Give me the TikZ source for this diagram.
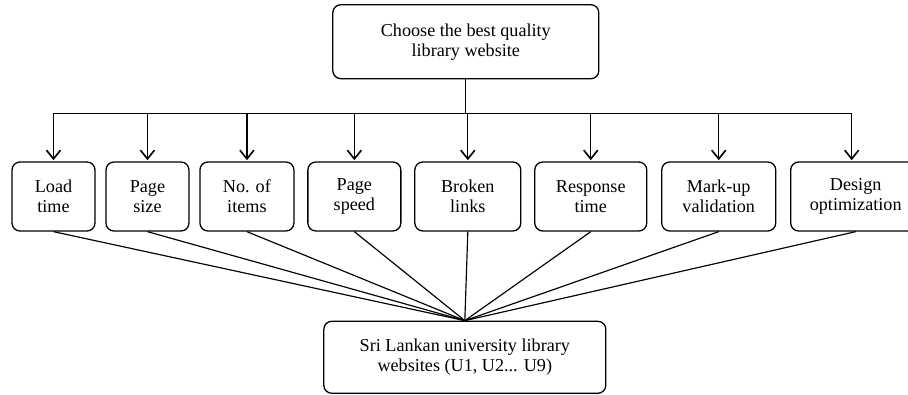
\documentclass[tikz,border=0pt]{standalone}
\usepackage{fontspec}
\setmainfont{Liberation Serif}
\usepackage{tikz}
\usetikzlibrary{shapes,arrows.meta,positioning}

\begin{document}
\begin{tikzpicture}[
    node distance=0.35cm and 0.35cm,
    box/.style={rectangle, draw, rounded corners=0.24cm, line width=1.1pt, align=center, inner sep=0pt, font=\fontsize{15.5}{17}\selectfont},
    criterion/.style={box, minimum height=2.07cm},
    arrow/.style={-{Straight Barb[length=2.6mm, width=4.2mm, line width=1.4pt]}, line width=1.1pt},
    link/.style={line width=1pt}
    ]

    % Marco
    \useasboundingbox (0,0) rectangle (27.24,11.82);

    % Criterios
    \node[criterion, minimum width=2.49cm] (load) at (1.605,5.925) {Load\\time};
    \node[criterion, minimum width=2.49cm, right=0.29cm of load] (size) {Page\\size};
    \node[criterion, minimum width=2.82cm, right=0.29cm of size] (items) {No. of\\items};
    \node[criterion, minimum width=2.79cm, right=0.38cm of items] (speed) {Page\\speed};
    \node[criterion, minimum width=3.18cm, right=0.38cm of speed] (broken) {Broken\\links};
    \node[criterion, minimum width=3.36cm, right=0.38cm of broken] (response) {Response\\time};
    \node[criterion, minimum width=3.42cm, right=0.41cm of response] (markup) {Mark-up\\validation};
    \node[criterion, minimum width=3.9cm, right=0.35cm of markup, xshift=0.06cm] (design) {Design\\optimization};

    % Objetivo y alternativas
    \node[box, minimum width=7.98cm, minimum height=2.22cm, above=2.46cm of broken, xshift=-0.06cm] (goal) {Choose the best quality\\library website};
    \node[box, minimum width=8.46cm, minimum height=2.16cm, below=2.67cm of broken, xshift=-0.09cm] (sites) {Sri Lankan university library\\websites (U1, U2... U9)};

    % Barra horizontal
    \coordinate[below=1.02cm of goal.south] (bus);
    \draw[link] (goal) -- (bus);
    \draw[link] (load.north |- bus) -- ([xshift=-0.12cm]design.north |- bus);

    % Flechas hacia los criterios
    \draw[arrow] (load.north |- bus) -- ([yshift=1pt]load.north);
    \draw[arrow] (size.north |- bus) -- ([yshift=1pt]size.north);
    \draw[arrow] (items.north |- bus) -- ([yshift=1pt]items.north);
    \draw[arrow] (speed.north |- bus) -- ([yshift=1pt]speed.north);
    \draw[arrow] (broken.north |- bus) -- ([yshift=1pt]broken.north);
    \draw[arrow] (response.north |- bus) -- ([yshift=1pt]response.north);
    \draw[arrow] (markup.north |- bus) -- ([yshift=1pt]markup.north);
    \draw[arrow] ([xshift=-0.12cm]design.north |- bus) -- ([xshift=-0.12cm, yshift=1pt]design.north);

    % Lineas hacia las alternativas
    \draw[link] (load.south) -- (sites.north);
    \draw[link] (size.south) -- (sites.north);
    \draw[link] (items.south) -- (sites.north);
    \draw[link] (speed.south) -- (sites.north);
    \draw[link] (broken.south) -- (sites.north);
    \draw[link] (response.south) -- (sites.north);
    \draw[link] (markup.south) -- (sites.north);
    \draw[link] (design.south) -- (sites.north);

\end{tikzpicture}
\end{document}
